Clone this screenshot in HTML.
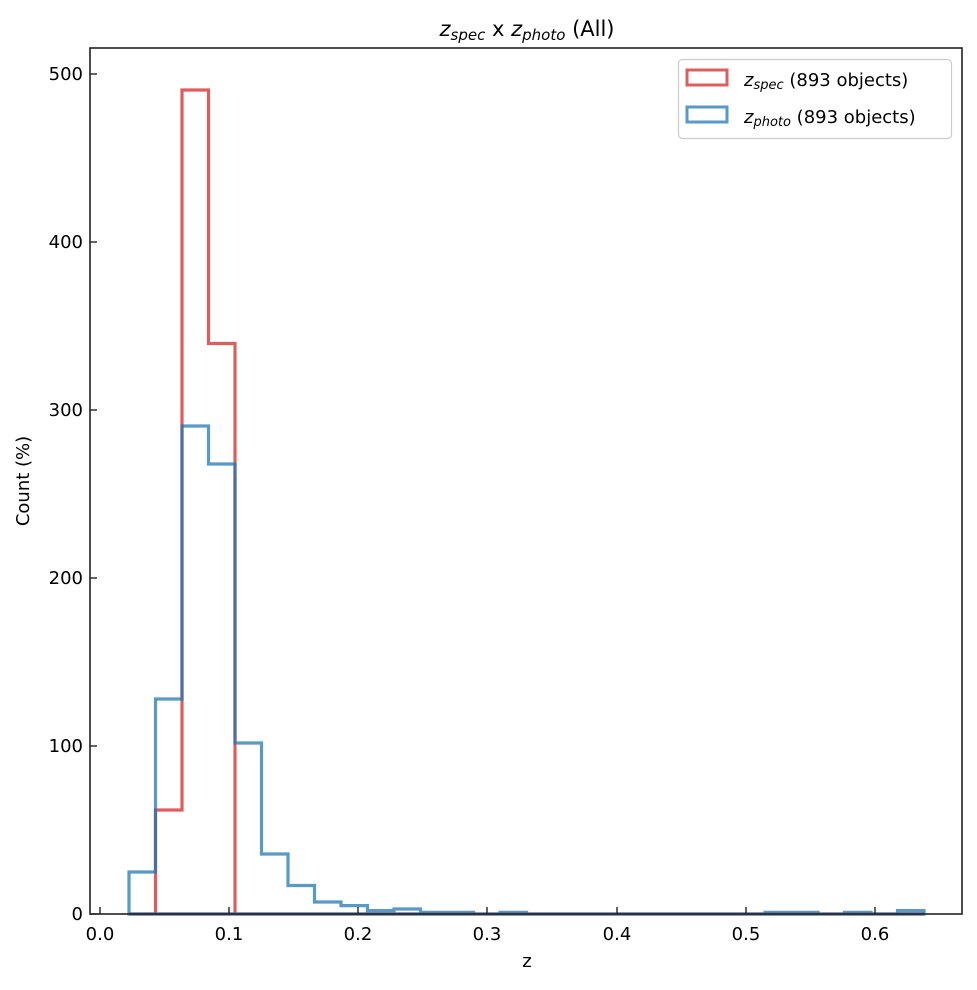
<!DOCTYPE html>
<html><head><style>
body{margin:0;background:#fff;}
svg text{font-family:"DejaVu Sans","Liberation Sans",sans-serif;fill:#000;}
</style></head><body>
<svg width="977" height="985" viewBox="0 0 977 985" xmlns="http://www.w3.org/2000/svg">
<rect width="977" height="985" fill="#fff"/>
<path d="M129,914 H155.5 V810 H182 V90 H208.5 V343.5 H235 V914 H924 Z" fill="none" stroke="#d62728" stroke-opacity="0.75" stroke-width="3.2"/>
<path d="M129,914 V872 H155.5 V699 H182 V426 H208.5 V464 H235 V743 H261.5 V854 H288 V885.5 H314.5 V902 H341 V905.6 H367.5 V910.6 H394 V909 H420.5 V912.3 H473.5 V914 H500 V912.3 H526.5 V914 H765 V912.3 H818 V914 H844.5 V912.3 H871 V914 H897.5 V910.6 H924 V914 Z" fill="none" stroke="#1f77b4" stroke-opacity="0.75" stroke-width="3.2"/>
<rect x="90" y="48" width="872" height="866" fill="none" stroke="#222" stroke-width="1.6"/>
<g stroke="#222" stroke-width="1.4">
<line x1="100" y1="914" x2="100" y2="907"/><line x1="229" y1="914" x2="229" y2="907"/><line x1="358" y1="914" x2="358" y2="907"/><line x1="487" y1="914" x2="487" y2="907"/><line x1="617" y1="914" x2="617" y2="907"/><line x1="746" y1="914" x2="746" y2="907"/><line x1="875" y1="914" x2="875" y2="907"/>
<line x1="90" y1="914" x2="97" y2="914"/><line x1="90" y1="746" x2="97" y2="746"/><line x1="90" y1="578" x2="97" y2="578"/><line x1="90" y1="410" x2="97" y2="410"/><line x1="90" y1="242" x2="97" y2="242"/><line x1="90" y1="74" x2="97" y2="74"/>
</g>
<g font-size="18" text-anchor="middle">
<text x="100" y="940">0.0</text><text x="229" y="940">0.1</text><text x="358" y="940">0.2</text><text x="487" y="940">0.3</text><text x="617" y="940">0.4</text><text x="746" y="940">0.5</text><text x="875" y="940">0.6</text>
<text x="527" y="967">z</text>
</g>
<g font-size="18" text-anchor="end">
<text x="83" y="920">0</text><text x="83" y="752">100</text><text x="83" y="584">200</text><text x="83" y="416">300</text><text x="83" y="248">400</text><text x="83" y="80">500</text>
</g>
<text x="29" y="481" font-size="18" text-anchor="middle" transform="rotate(-90 29 481)">Count (%)</text>
<text x="527" y="36" font-size="21" text-anchor="middle"><tspan font-style="italic">z</tspan><tspan font-style="italic" font-size="15" dy="4">spec</tspan><tspan dy="-4"> x </tspan><tspan font-style="italic">z</tspan><tspan font-style="italic" font-size="15" dy="4">photo</tspan><tspan dy="-4"> (All)</tspan></text>
<rect x="678.5" y="59.5" width="273" height="79" rx="4" fill="#fff" stroke="#ccc" stroke-width="1.2"/>
<rect x="687" y="70" width="40" height="15" fill="none" stroke="#d62728" stroke-opacity="0.75" stroke-width="3"/>
<rect x="687" y="107" width="40" height="15" fill="none" stroke="#1f77b4" stroke-opacity="0.75" stroke-width="3"/>
<text x="744" y="86" font-size="18"><tspan font-style="italic">z</tspan><tspan font-style="italic" font-size="13" dy="3">spec</tspan><tspan dy="-3"> (893 objects)</tspan></text>
<text x="744" y="123" font-size="18"><tspan font-style="italic">z</tspan><tspan font-style="italic" font-size="13" dy="3">photo</tspan><tspan dy="-3"> (893 objects)</tspan></text>
</svg>
</body></html>
